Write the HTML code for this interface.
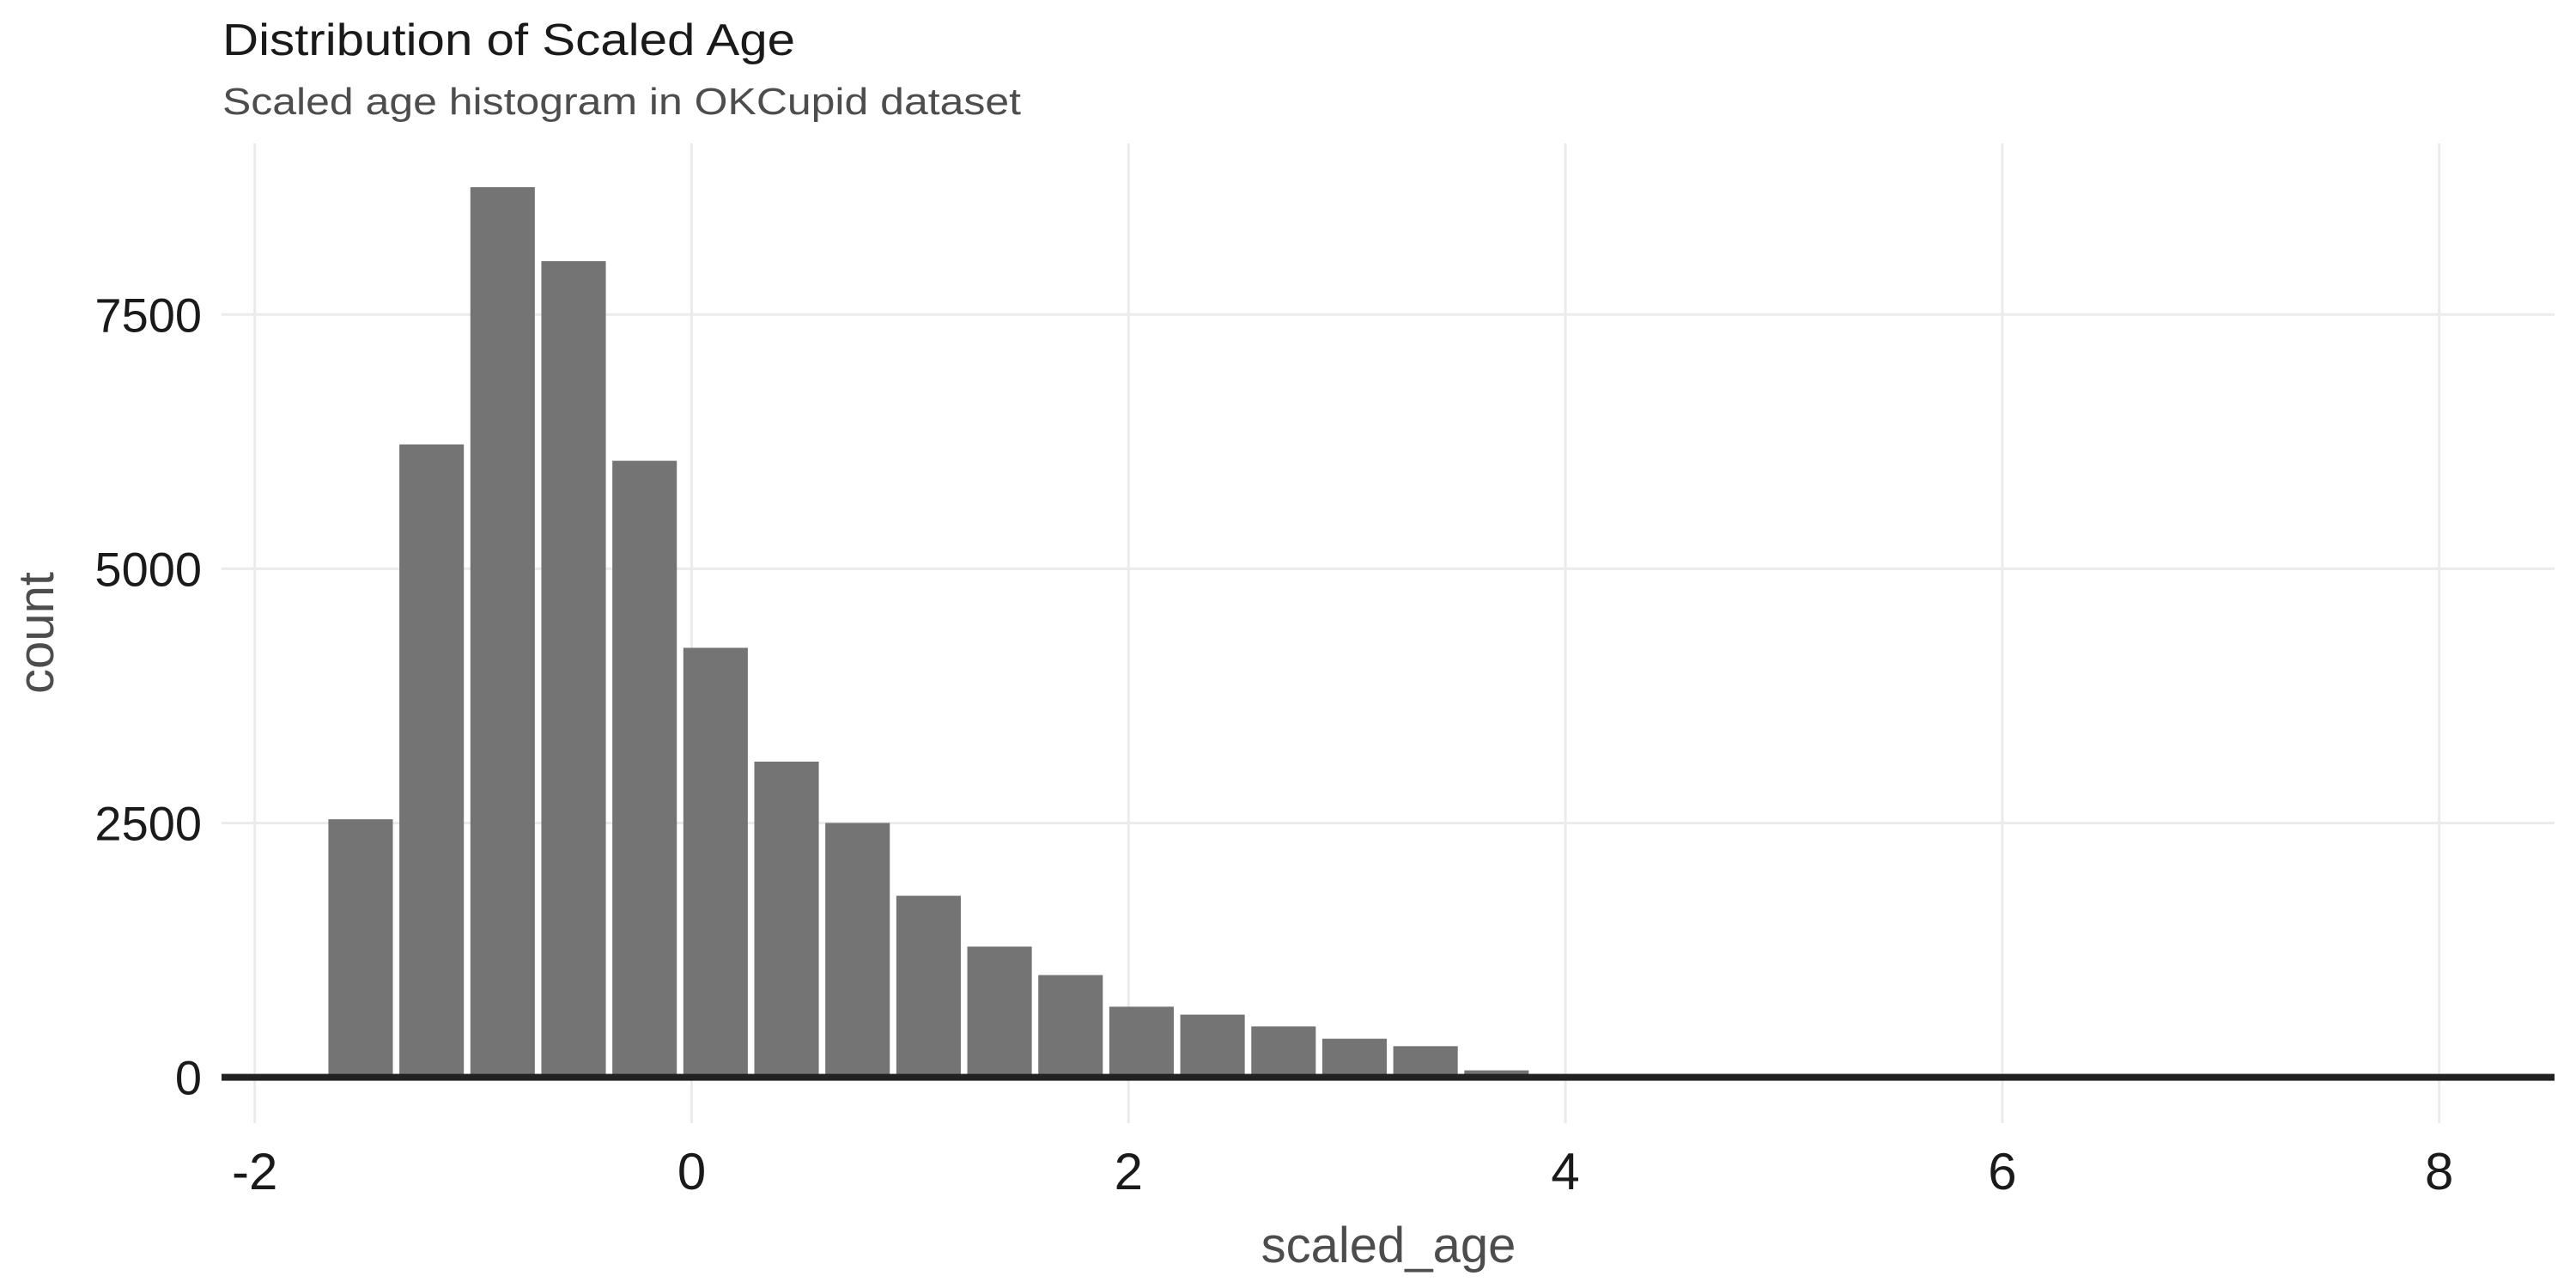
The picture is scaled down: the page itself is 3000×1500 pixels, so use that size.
<!DOCTYPE html>
<html><head><meta charset="utf-8"><style>
html,body{margin:0;padding:0;background:#fff;}
svg{display:block;font-family:"Liberation Sans",Arial,sans-serif;}
</style></head><body>
<svg id="chart" width="3000" height="1500" viewBox="0 0 3000 1500" xmlns="http://www.w3.org/2000/svg">
<rect x="0" y="0" width="3000" height="1500" fill="#fff"/>
<text x="259" y="64" font-size="52" fill="#1a1a1a" textLength="667" lengthAdjust="spacingAndGlyphs">Distribution of Scaled Age</text>
<text x="259" y="133" font-size="44" fill="#4d4d4d" textLength="930" lengthAdjust="spacingAndGlyphs">Scaled age histogram in OKCupid dataset</text>
<g id="grid"></g>
<g id="bars"></g>
<g id="axes"></g>
<text transform="translate(62,737) rotate(-90)" text-anchor="middle" font-size="58" fill="#4d4d4d">count</text>
<text x="1617" y="1470" text-anchor="middle" font-size="58" fill="#4d4d4d">scaled_age</text>
</svg>
<script>
const binStart = -1.678;
const binWidth = 0.325;
const counts = [2537, 6223, 8752, 8025, 6062, 4223, 3104, 2501, 1785, 1285, 1005, 694, 616, 500, 379, 306, 68];
const xTicks = [-2, 0, 2, 4, 6, 8];
const xTickLabels = ["-2", "0", "2", "4", "6", "8"];
const yTicks = [0, 2500, 5000, 7500];
const yTickLabels = ["0", "2500", "5000", "7500"];

const NS = "http://www.w3.org/2000/svg";
const plotL = 258, plotR = 2975, plotT = 167, plotB = 1308;
function xScale(v){ return 805.5 + v * 254.4; }
function yScale(v){ return 1254.6 - v * 0.11844; }
function mk(tag, attrs){ const e = document.createElementNS(NS, tag); for (const k in attrs) e.setAttribute(k, attrs[k]); return e; }

const grid = document.getElementById('grid');
xTicks.forEach(function(t){
  const l = mk('line', {x1: xScale(t), x2: xScale(t), y1: plotT, y2: plotB, stroke: '#ebebeb', 'stroke-width': 3});
  
  
  grid.appendChild(l);
});
yTicks.forEach(function(t){
  const l = mk('line', {x1: plotL, x2: plotR, y1: yScale(t), y2: yScale(t), stroke: '#ebebeb', 'stroke-width': 3});
  
  
  grid.appendChild(l);
});

const bars = document.getElementById('bars');
counts.forEach(function(c, i){
  const x0 = xScale(binStart + i * binWidth), x1 = xScale(binStart + (i + 1) * binWidth);
  const r = mk('rect', {x: x0 + 3.8, y: yScale(c), width: Math.max(0, x1 - x0 - 7.6), height: yScale(0) - yScale(c), fill: '#747474'});
  
  
  bars.appendChild(r);
});

const axes = document.getElementById('axes');
const base = mk('line', {x1: plotL, x2: plotR, y1: yScale(0), y2: yScale(0), stroke: '#222', 'stroke-width': 8});


axes.appendChild(base);
yTicks.forEach(function(t, i){
  const tx = mk('text', {x: 235, y: yScale(t) + 20, 'text-anchor': 'end', 'font-size': 56, fill: '#1a1a1a'});
  tx.textContent = yTickLabels[i];
  
  
  axes.appendChild(tx);
});
xTicks.forEach(function(t, i){
  const tx = mk('text', {x: xScale(t), y: 1385, 'text-anchor': 'middle', 'font-size': 60, fill: '#1a1a1a'});
  tx.textContent = xTickLabels[i];
  
  
  axes.appendChild(tx);
});
</script>
</body></html>
